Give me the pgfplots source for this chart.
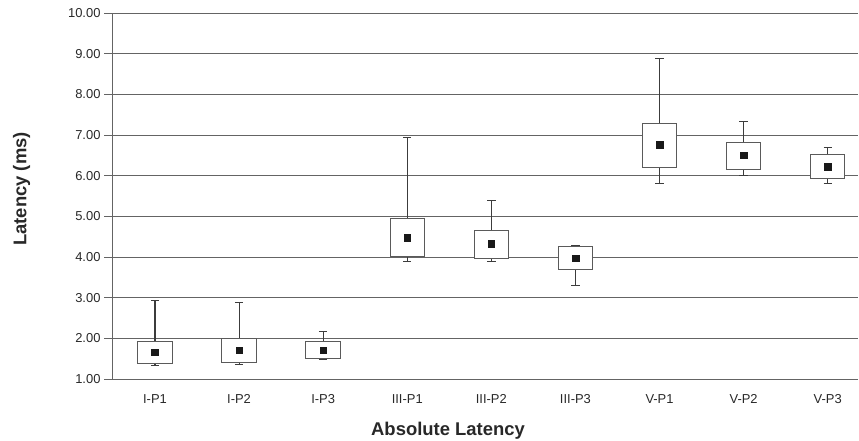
\documentclass[border=0pt]{standalone}
\usepackage{fontspec}
\setmainfont{Liberation Sans}
\usepackage{pgfplots}
\pgfplotsset{compat=1.18}
\usepgfplotslibrary{statistics}
\definecolor{gridc}{RGB}{100,100,100}
\definecolor{boxc}{RGB}{90,90,90}
\definecolor{whc}{RGB}{60,60,60}
\definecolor{txtc}{RGB}{40,40,40}
\begin{document}
\begin{tikzpicture}
\useasboundingbox (0,0) rectangle (859bp,441bp);
\begin{axis}[
  at={(112bp,62bp)}, anchor=south west,
  scale only axis, width=746bp, height=366bp,
  xmin=-0.511, xmax=8.36, ymin=1, ymax=10,
  axis lines*=left,
  axis line style={draw=gridc, line width=0.9bp},
  ytick={1,2,...,10},
  ymajorgrids, grid style={draw=gridc, line width=0.9bp},
  tick align=outside, major tick length=8bp,
  ytick style={draw=gridc, line width=0.9bp},
  xtick={0,1,2,3,4,5,6,7,8},
  xticklabels={I-P1,I-P2,I-P3,III-P1,III-P2,III-P3,V-P1,V-P2,V-P3},
  xtick style={draw=none},
  /pgf/number format/.cd, fixed, fixed zerofill, precision=2, assume math mode=true, /pgfplots/.cd,
  yticklabel style={font=\fontsize{13}{15}\selectfont, text=txtc, anchor=east},
  xticklabel style={font=\fontsize{13}{15}\selectfont, text=txtc, anchor=base, yshift=-16bp},
  xlabel={Absolute Latency},
  ylabel={Latency (ms)},
  xlabel style={font=\fontsize{18.5}{20}\selectfont\bfseries, text=txtc, at={(rel axis cs:0.4504,0)}, anchor=base, yshift=-56bp},
  ylabel style={font=\fontsize{18.5}{20}\selectfont\bfseries, text=txtc, at={([xshift=-90.5bp]rel axis cs:0,0.519)}, anchor=center},
  boxplot/draw direction=y,
  boxplot/box extend=0.41,
  boxplot/whisker extend=0.1,
  boxplot/draw/median/.code={},
  every boxplot/.style={draw=boxc, fill=white, line width=1bp, solid, mark=none},
  boxplot/every whisker/.style={draw=whc, line width=1.1bp},
]
\addplot[boxplot prepared={lower whisker=1.33, lower quartile=1.39, median=1.66, upper quartile=1.93, upper whisker=2.94, draw position=0}] coordinates {};
\addplot[boxplot prepared={lower whisker=1.36, lower quartile=1.40, median=1.71, upper quartile=1.99, upper whisker=2.89, draw position=1}] coordinates {};
\addplot[boxplot prepared={lower whisker=1.48, lower quartile=1.50, median=1.71, upper quartile=1.92, upper whisker=2.16, draw position=2}] coordinates {};
\addplot[boxplot prepared={lower whisker=3.88, lower quartile=4.01, median=4.48, upper quartile=4.95, upper whisker=6.94, draw position=3}] coordinates {};
\addplot[boxplot prepared={lower whisker=3.88, lower quartile=3.97, median=4.32, upper quartile=4.64, upper whisker=5.38, draw position=4}] coordinates {};
\addplot[boxplot prepared={lower whisker=3.29, lower quartile=3.69, median=3.97, upper quartile=4.25, upper whisker=4.27, draw position=5}] coordinates {};
\addplot[boxplot prepared={lower whisker=5.81, lower quartile=6.21, median=6.76, upper quartile=7.29, upper whisker=8.88, draw position=6}] coordinates {};
\addplot[boxplot prepared={lower whisker=6.00, lower quartile=6.16, median=6.50, upper quartile=6.82, upper whisker=7.33, draw position=7}] coordinates {};
\addplot[boxplot prepared={lower whisker=5.81, lower quartile=5.93, median=6.22, upper quartile=6.52, upper whisker=6.70, draw position=8}] coordinates {};
\addplot[only marks, mark=square*, mark size=3.3bp, mark options={fill=black!90, draw=black!90}] coordinates {
(0,1.66) (1,1.71) (2,1.71) (3,4.48) (4,4.32) (5,3.97) (6,6.76) (7,6.50) (8,6.22)};
\end{axis}
\end{tikzpicture}
\end{document}
